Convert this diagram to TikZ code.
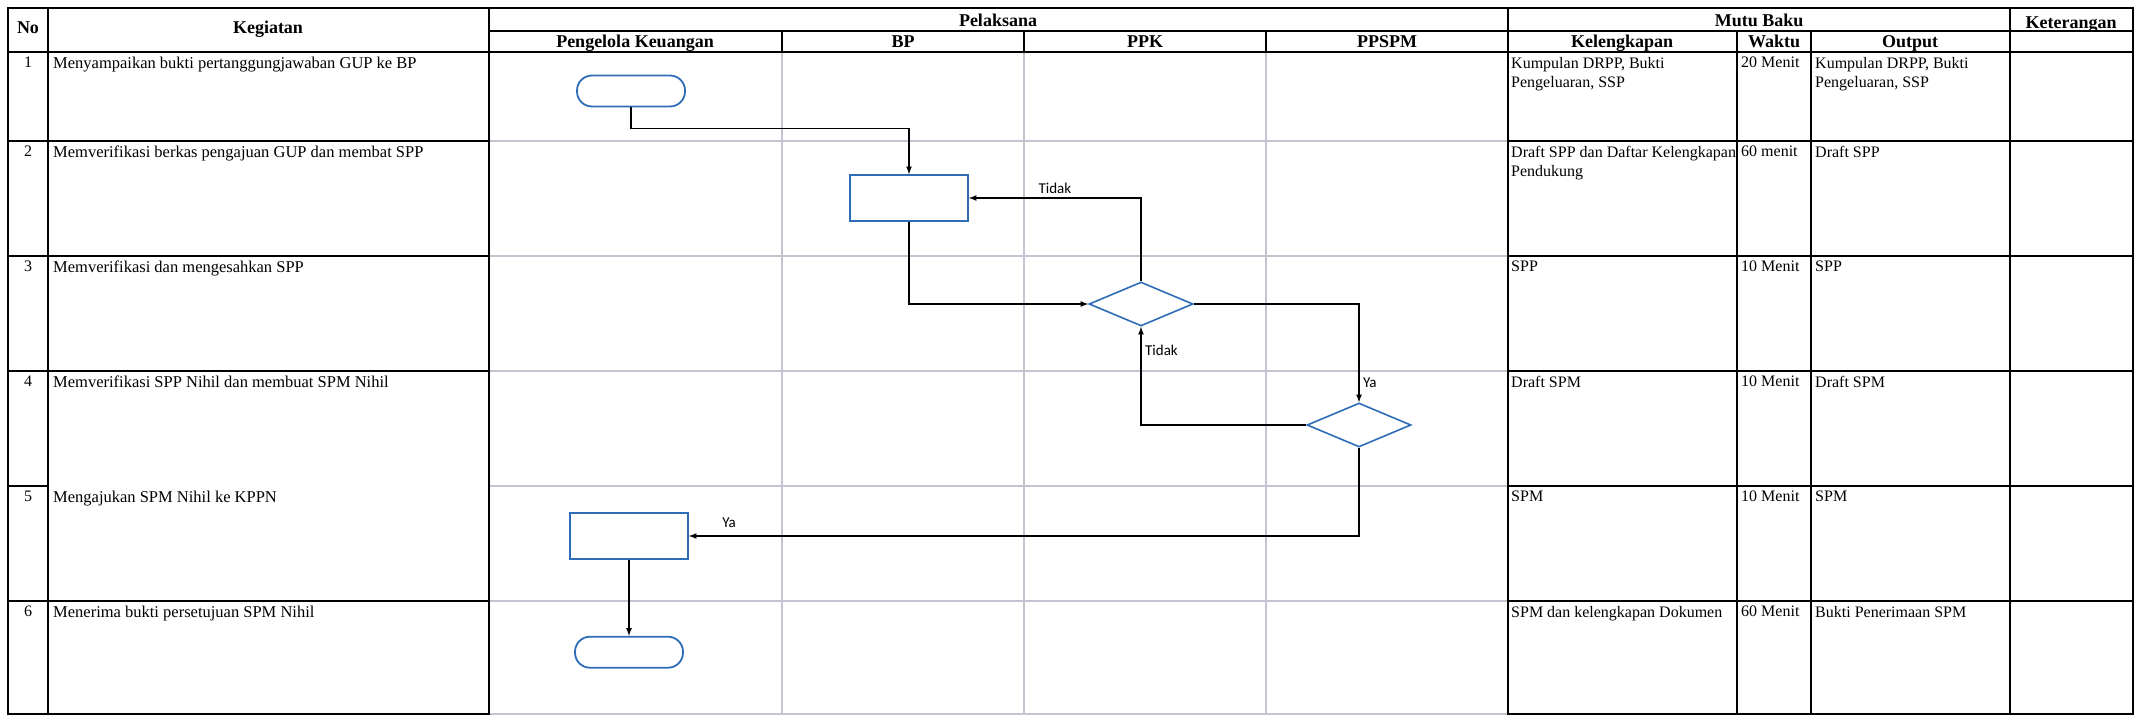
\documentclass[tikz,border=0pt]{standalone}
\usepackage{fontspec}
\setmainfont{Liberation Serif}
\setsansfont{Carlito}
\usepackage{tikz}
\usetikzlibrary{arrows, shapes, positioning}

\definecolor{flowblue}{RGB}{46,108,184}
\definecolor{lanegray}{RGB}{196,196,210}

\begin{document}
\begin{tikzpicture}[x=1pt,y=-1pt,>=latex,font=\fontsize{16}{19}\selectfont]

	\tikzset{node term/.style={rectangle, rounded corners=15pt, draw=flowblue,
			line width=1.8pt, minimum width=108pt, minimum height=31pt}}
	\tikzset{node proc/.style={rectangle, draw=flowblue,
			line width=1.6pt, minimum width=118pt, minimum height=46pt}}
	\tikzset{node dec/.style={diamond, draw=flowblue, line width=1.6pt,
			aspect=2.3, minimum width=104pt, minimum height=44pt, inner sep=0pt}}
	\tikzset{flow/.style={->, line width=1.6pt}}
	\tikzset{rule/.style={line width=1.4pt, line cap=rect}}
	\tikzset{lane/.style={draw=lanegray, line width=1.1pt}}
	\tikzset{cell/.style={anchor=north west, inner sep=0pt, align=left}}
	\tikzset{head/.style={anchor=base, inner sep=0pt,
			font=\fontsize{18}{21}\selectfont\bfseries}}
	\tikzset{lbl/.style={font=\sffamily\fontsize{15}{18}\selectfont}}

	\useasboundingbox (0,0) rectangle (2140,720);

	% swimlanes
	\foreach \x in {782,1024,1266}
		\draw[lane] (\x,52) -- (\x,714);
	\foreach \y in {141,256,371,486,601,714}
		\draw[lane] (489,\y) -- (1508,\y);

	% table rules
	\draw[rule] (8,8) -- (2133,8);
	\draw[rule] (489,31) -- (2133,31);
	\draw[rule] (8,52) -- (2133,52);
	\foreach \x in {8,48,489,1508,2010,2133}
		\draw[rule] (\x,8) -- (\x,714);
	\foreach \x in {782,1024,1266}
		\draw[rule] (\x,31) -- (\x,52);
	\foreach \x in {1737,1811}
		\draw[rule] (\x,31) -- (\x,714);
	\foreach \y in {141,256,371,601,714}
		\draw[rule] (8,\y) -- (489,\y);
	\draw[rule] (8,486) -- (48,486);
	\foreach \y in {141,256,371,486,601,714}
		\draw[rule] (1508,\y) -- (2133,\y);

	% header
	\node[head] (hNo) at (28,33) {No};
	\node[head] (hKeg) at (268,33) {Kegiatan};
	\node[head] (hPel) at (998,26) {Pelaksana};
	\node[head] (hPK) at (635,47) {Pengelola Keuangan};
	\node[head] (hBP) at (903,47) {BP};
	\node[head] (hPPK) at (1145,47) {PPK};
	\node[head] (hPPSPM) at (1387,47) {PPSPM};
	\node[head] (hMB) at (1759,26) {Mutu Baku};
	\node[head] (hKel) at (1622,47) {Kelengkapan};
	\node[head] (hWak) at (1774,47) {Waktu};
	\node[head] (hOut) at (1910,47) {Output};
	\node[head] (hKet) at (2071,28) {Keterangan};

	% rows
	\foreach \i/\y/\keg/\kel/\wak/\out in {
		1/57/{Menyampaikan bukti pertanggungjawaban GUP ke BP}/{Kumpulan DRPP, Bukti\\Pengeluaran, SSP}/{20 Menit}/{Kumpulan DRPP, Bukti\\Pengeluaran, SSP},
		2/146/{Memverifikasi berkas pengajuan GUP dan membat SPP}/{Draft SPP dan Daftar Kelengkapan\\Pendukung}/{60 menit}/{Draft SPP},
		3/261/{Memverifikasi dan mengesahkan SPP}/{SPP}/{10 Menit}/{SPP},
		4/376/{Memverifikasi SPP Nihil dan membuat SPM Nihil}/{Draft SPM}/{10 Menit}/{Draft SPM},
		5/491/{Mengajukan SPM Nihil ke KPPN}/{SPM}/{10 Menit}/{SPM},
		6/606/{Menerima bukti persetujuan SPM Nihil}/{SPM dan kelengkapan Dokumen}/{60 Menit}/{Bukti Penerimaan SPM}}{
		\node[anchor=north, inner sep=0pt] (no\i) at (28,\y) {\i};
		\node[cell, font=\fontsize{16.5}{19}\selectfont] (keg\i) at (53,\y) {\keg};
		\node[cell] (kel\i) at (1511,\y) {\kel};
		\node[cell] (wak\i) at (1741,\y) {\wak};
		\node[cell] (out\i) at (1815,\y) {\out};
	}

	% flow
	\node[node term] (T1) at (631,91) {};
	\node[node proc] (P1) at (909,198) {};
	\node[node dec] (D1) at (1141,304) {};
	\node[node dec] (D2) at (1359,425) {};
	\node[node proc] (P2) at (629,536) {};
	\node[node term, below=76pt of P2] (T2) {};

	\draw[flow] (T1.south) -- ++(0,21) -| (P1.north);
	\draw[flow] (P1.south) |- (D1.west);
	\draw[flow] (D1.north) |- node[lbl, pos=0.75, above] (lTidak1) {Tidak} (P1.east);
	\draw[flow] (D1.east) -| node[lbl, pos=0.9, right] (lYa1) {Ya} (D2.north);
	\draw[flow] (D2.west) -| node[lbl, pos=0.88, right] (lTidak2) {Tidak} (D1.south);
	\draw[flow] (D2.south) |- node[lbl, pos=0.97, above=4pt] (lYa2) {Ya} (P2.east);
	\draw[flow] (P2) -- (T2);
\end{tikzpicture}
\end{document}
